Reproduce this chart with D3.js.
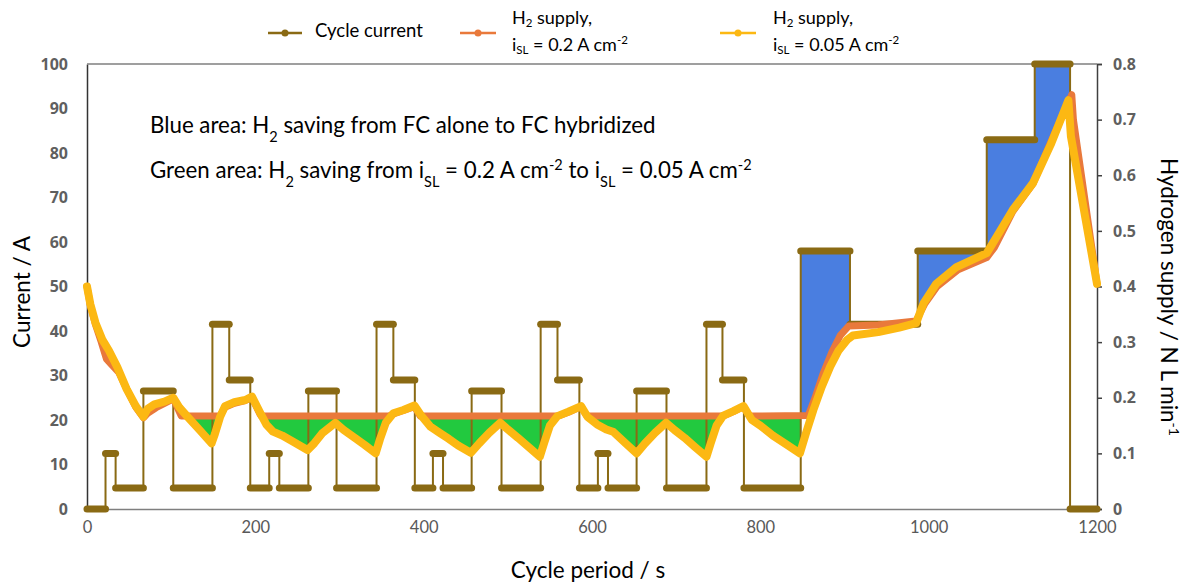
<!DOCTYPE html>
<html><head><meta charset="utf-8">
<script src="https://cdn.jsdelivr.net/npm/d3@7"></script>
<style>
html,body{margin:0;padding:0;background:#fff;}
svg{display:block;font-family:Lato,"Open Sans",sans-serif;}
</style></head>
<body>
<svg id="chart" width="1186" height="585"></svg>
<script>
// ---------- data ----------
const xTicks = [0, 200, 400, 600, 800, 1000, 1200];
const yTicks = [0, 10, 20, 30, 40, 50, 60, 70, 80, 90, 100];
const y2Ticks = [0, 0.1, 0.2, 0.3, 0.4, 0.5, 0.6, 0.7, 0.8];

// cycle current: step edges (s) and current of each step (A)
const stepEdges = [0,22,34,67,102.5,149,169,194,216.5,228.5,263,296.5,344,364,389.5,411,423,457,492.5,539,559,585,607,619,653,688.5,736,755,780.5,848,906.5,987,1069,1126,1168,1200];
const currentValues = [0,12.5,4.7,26.5,4.7,41.5,29, 4.7,12.5,4.7,26.5,4.7,41.5,29, 4.7,12.5,4.7,26.5,4.7,41.5,29, 4.7,12.5,4.7,26.5,4.7,41.5,29, 4.7,58,41.5,58,83,100,0];

// H2 supply, iSL = 0.2 A cm-2 (orange)
const timeSL02 = [0,4,10,17,23,30,38,47,58,67,72,82,92,102.5,108,112,158,164,175,188,196,205,207,358,364,376,389,396,560,572,587,594,756,768,780,787,857,865,875,885,895,905,940,985,995,1010,1035,1069,1078,1100,1124,1148,1170,1172,1200];
const supplySL02 = [0.400,0.366,0.332,0.300,0.270,0.258,0.245,0.216,0.183,0.164,0.172,0.182,0.190,0.198,0.180,0.167,0.167,0.183,0.190,0.195,0.200,0.172,0.167,0.167,0.171,0.177,0.184,0.167,0.167,0.174,0.184,0.167,0.167,0.175,0.184,0.167,0.168,0.200,0.245,0.282,0.312,0.329,0.331,0.338,0.368,0.400,0.430,0.452,0.470,0.535,0.585,0.670,0.745,0.700,0.405];

// H2 supply, iSL = 0.05 A cm-2 (yellow)
const timeSL005 = [0,4,10,18,26,36,47,58,67,72,80,92,102.5,110,120,135,148,152,158,164,175,188,196,205,213,221,232,245,262,270,280,295,305,318,330,343,348,355,364,376,389,397,408,419,430,441,456,466,478,491,500,512,525,538,543,550,559,572,587,595,606,617,625,640,653,663,675,688,698,710,722,736,741,748,756,768,780,790,800,815,830,847,855,863,873,883,893,903,910,940,965,985,994,1009,1033,1069,1085,1100,1124,1145,1166,1169,1200];
const supplySL005 = [0.400,0.368,0.335,0.305,0.285,0.255,0.216,0.185,0.166,0.180,0.188,0.193,0.200,0.182,0.165,0.140,0.118,0.135,0.165,0.185,0.192,0.196,0.202,0.175,0.152,0.139,0.132,0.121,0.106,0.118,0.137,0.155,0.142,0.128,0.115,0.100,0.125,0.155,0.172,0.178,0.186,0.168,0.148,0.137,0.126,0.114,0.101,0.118,0.137,0.155,0.143,0.128,0.111,0.094,0.118,0.150,0.167,0.175,0.185,0.165,0.152,0.143,0.139,0.118,0.100,0.118,0.137,0.155,0.142,0.128,0.112,0.094,0.118,0.150,0.168,0.176,0.185,0.160,0.150,0.132,0.117,0.100,0.140,0.178,0.220,0.256,0.285,0.304,0.312,0.318,0.326,0.334,0.370,0.405,0.435,0.460,0.500,0.538,0.586,0.655,0.735,0.670,0.405];

// ---------- setup ----------
const C_CUR = "#8a6a14", C_OR = "#e9793b", C_YE = "#fcb813", C_GREEN = "#22c93f", C_BLUE = "#4a7ee0";
const svg = d3.select("#chart");
const x = d3.scaleLinear().domain([0, 1200]).range([87, 1097]);
const y = d3.scaleLinear().domain([0, 100]).range([509, 64]);
const y2 = d3.scaleLinear().domain([0, 0.8]).range([509, 64]);

const orange = timeSL02.map((t, i) => ({t, v: supplySL02[i]}));
const yellow = timeSL005.map((t, i) => ({t, v: supplySL005[i]}));
const steps = currentValues.map((v, i) => ({t0: stepEdges[i], t1: stepEdges[i + 1], v}));

const defs = svg.append("defs");
defs.append("clipPath").attr("id", "aboveYellow").append("path")
  .attr("d", d3.area().x(d => x(d.t)).y0(d => y2(d.v)).y1(0)(yellow));
defs.append("clipPath").attr("id", "aboveOrange").append("path")
  .attr("d", d3.area().x(d => x(d.t)).y0(d => y2(d.v)).y1(0)(orange));

// green area: below orange, above yellow, up to t = 848
const greenData = orange.filter(d => d.t <= 848).concat([{t: 848, v: 0.167}]);
svg.append("g").attr("clip-path", "url(#aboveYellow)")
  .append("path")
  .attr("d", d3.area().x(d => x(d.t)).y0(y2(0)).y1(d => y2(d.v))(greenData))
  .attr("fill", C_GREEN);

// blue area: below current steps (t 848..1168), above both supply lines
const blueSteps = steps.filter(s => s.t0 >= 848 && s.v > 0);
const bluePts = [];
blueSteps.forEach(s => { bluePts.push({t: s.t0, v: s.v}); bluePts.push({t: s.t1, v: s.v}); });
svg.append("g").attr("clip-path", "url(#aboveYellow)")
  .append("g").attr("clip-path", "url(#aboveOrange)")
  .append("path")
  .attr("d", d3.area().x(d => x(d.t)).y0(y(0)).y1(d => y(d.v))(bluePts))
  .attr("fill", C_BLUE);

// ---------- axes ----------
const fmt2 = d => d === 0 ? "0" : d3.format(".1f")(d);

const gL = svg.append("g").attr("transform", `translate(${x(0)},0)`)
  .call(d3.axisLeft(y).tickValues(yTicks).tickSize(0).tickPadding(19));
gL.select(".domain").attr("stroke", "#333").attr("stroke-width", 1.5);
gL.selectAll("text").attr("font-family", "'Open Sans',sans-serif").attr("font-weight", 700)
  .attr("font-size", 16).attr("fill", "#5f5f5f");

const gB = svg.append("g").attr("transform", `translate(0,${y(0)})`)
  .call(d3.axisBottom(x).tickValues(xTicks).tickSize(0).tickPadding(12).tickFormat(d3.format("d")));
gB.select(".domain").attr("stroke", "#7f7f7f").attr("stroke-width", 1.5);
gB.selectAll("text").attr("font-family", "Lato,sans-serif").attr("font-size", 16.5).attr("fill", "#595959");

const gR = svg.append("g").attr("transform", `translate(${x(1200)},0)`)
  .call(d3.axisRight(y2).tickValues(y2Ticks).tickSize(5).tickFormat(fmt2).tickPadding(11));
gR.select(".domain").attr("stroke", "#404040").attr("stroke-width", 1.5);
gR.selectAll(".tick line").attr("stroke", "#404040").attr("stroke-width", 1.5);
gR.selectAll("text").attr("font-family", "'Open Sans',sans-serif").attr("font-weight", 700)
  .attr("font-size", 16).attr("fill", "#5f5f5f");

// top frame line
svg.append("line").attr("x1", x(0)).attr("x2", x(1200)).attr("y1", y(100)).attr("y2", y(100))
  .attr("stroke", "#7f7f7f").attr("stroke-width", 1.5);

// ---------- cycle current ----------
const stepLine = d3.line().x(d => x(d.t)).y(d => y(d.v)).curve(d3.curveStepAfter);
svg.append("path")
  .attr("d", stepLine(steps.map(s => ({t: s.t0, v: s.v})).concat([{t: 1200, v: 0}])))
  .attr("fill", "none").attr("stroke", C_CUR).attr("stroke-width", 2);
svg.append("g").selectAll("line").data(steps).join("line")
  .attr("x1", d => x(d.t0)).attr("x2", d => x(d.t1))
  .attr("y1", d => y(d.v)).attr("y2", d => y(d.v))
  .attr("stroke", C_CUR).attr("stroke-width", 7).attr("stroke-linecap", "round");

// ---------- H2 supply lines ----------
const supLine = d3.line().x(d => x(d.t)).y(d => y2(d.v));
svg.append("path").attr("d", supLine(orange)).attr("fill", "none")
  .attr("stroke", C_OR).attr("stroke-width", 7).attr("stroke-linejoin", "round").attr("stroke-linecap", "round");
svg.append("path").attr("d", supLine(yellow)).attr("fill", "none")
  .attr("stroke", C_YE).attr("stroke-width", 8).attr("stroke-linejoin", "round").attr("stroke-linecap", "round");

// ---------- axis titles ----------
svg.append("text").attr("transform", `translate(30,292) rotate(-90)`)
  .attr("text-anchor", "middle").attr("font-size", 22.5).attr("fill", "#000").text("Current / A");
svg.append("text").attr("x", 588).attr("y", 578)
  .attr("text-anchor", "middle").attr("font-size", 22.5).attr("fill", "#000").text("Cycle period / s");
const rt = svg.append("text").attr("transform", `translate(1161,297) rotate(90)`)
  .attr("text-anchor", "middle").attr("font-size", 22.5).attr("fill", "#000");
rt.append("tspan").text("Hydrogen supply / N L min");
rt.append("tspan").attr("baseline-shift", "super").attr("font-size", 14).text("-1");

// ---------- annotations ----------
function sub(t, s) { t.append("tspan").attr("baseline-shift", "sub").attr("font-size", "65%").text(s); }
function sup(t, s) { t.append("tspan").attr("baseline-shift", "super").attr("font-size", "65%").text(s); }
function txt(t, s) { t.append("tspan").text(s); }

const a1 = svg.append("text").attr("x", 150).attr("y", 133).attr("font-size", 22.3).attr("fill", "#000");
txt(a1, "Blue area: H"); sub(a1, "2"); txt(a1, " saving from FC alone to FC hybridized");
const a2 = svg.append("text").attr("x", 150).attr("y", 178).attr("font-size", 22.3).attr("fill", "#000");
txt(a2, "Green area: H"); sub(a2, "2"); txt(a2, " saving from i"); sub(a2, "SL"); txt(a2, " = 0.2 A cm");
sup(a2, "-2"); txt(a2, " to i"); sub(a2, "SL"); txt(a2, " = 0.05 A cm"); sup(a2, "-2");

// ---------- legend ----------
const legendItems = [
  {c: C_CUR, x0: 268, x1: 302},
  {c: C_OR, x0: 460, x1: 496},
  {c: C_YE, x0: 720, x1: 756}
];
const lg = svg.append("g");
legendItems.forEach(d => {
  lg.append("line").attr("x1", d.x0).attr("x2", d.x1).attr("y1", 33).attr("y2", 33)
    .attr("stroke", d.c).attr("stroke-width", 2.5);
  lg.append("circle").attr("cx", (d.x0 + d.x1) / 2).attr("cy", 33).attr("r", 3.5).attr("fill", d.c);
});
lg.append("text").attr("x", 315).attr("y", 37).attr("font-size", 18.5).text("Cycle current");
[[512, "0.2"], [773, "0.05"]].forEach(([lx, v]) => {
  const t1 = lg.append("text").attr("x", lx).attr("y", 24).attr("font-size", 18);
  txt(t1, "H");
  t1.append("tspan").attr("dy", 3).attr("font-size", 11.5).text("2");
  t1.append("tspan").attr("dy", -3).text(" supply,");
  const t2 = lg.append("text").attr("x", lx).attr("y", 51).attr("font-size", 18);
  txt(t2, "i");
  t2.append("tspan").attr("dy", 3).attr("font-size", 11.5).text("SL");
  t2.append("tspan").attr("dy", -3).text(" = " + v + " A cm");
  t2.append("tspan").attr("dy", -7).attr("font-size", 11.5).text("-2");
});
</script>
</body></html>
